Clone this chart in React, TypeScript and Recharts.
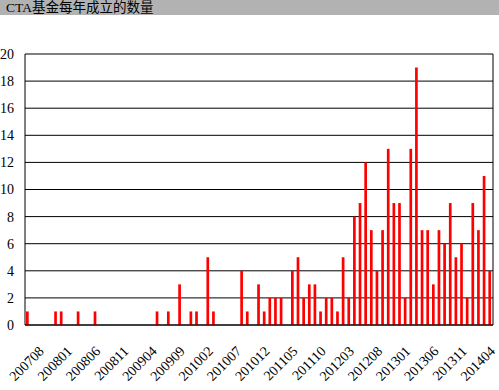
import React from 'react'
import { BarChart, Bar, XAxis, YAxis, CartesianGrid } from 'recharts'

// monthly categories, 200708 .. 201406
const months = [
  '200708', '200709', '200710', '200711', '200712',
  '200801', '200802', '200803', '200804', '200805', '200806', '200807', '200808', '200809', '200810', '200811', '200812',
  '200901', '200902', '200903', '200904', '200905', '200906', '200907', '200908', '200909', '200910', '200911', '200912',
  '201001', '201002', '201003', '201004', '201005', '201006', '201007', '201008', '201009', '201010', '201011', '201012',
  '201101', '201102', '201103', '201104', '201105', '201106', '201107', '201108', '201109', '201110', '201111', '201112',
  '201201', '201202', '201203', '201204', '201205', '201206', '201207', '201208', '201209', '201210', '201211', '201212',
  '201301', '201302', '201303', '201304', '201305', '201306', '201307', '201308', '201309', '201310', '201311', '201312',
  '201401', '201402', '201403', '201404', '201405', '201406'
]

// number of CTA funds set up in each month
const counts = [
  1, 0, 0, 0, 0,
  1, 1, 0, 0, 1, 0, 0, 1, 0, 0, 0, 0,
  0, 0, 0, 0, 0, 0, 1, 0, 1, 0, 3, 0,
  1, 1, 0, 5, 1, 0, 0, 0, 0, 4, 1, 0,
  3, 1, 2, 2, 2, 0, 4, 5, 2, 3, 3, 1,
  2, 2, 1, 5, 2, 8, 9, 12, 7, 4, 7, 13,
  9, 9, 2, 13, 19, 7, 7, 3, 7, 6, 9, 5,
  6, 2, 9, 7, 11, 4
]

const yTicks = [0, 2, 4, 6, 8, 10, 12, 14, 16, 18, 20]

const title = 'CTA基金每年成立的数量'

const data = months.map((m, i) => ({ month: m, count: counts[i] }))

const serif = '"Liberation Serif", "Times New Roman", serif'

const MonthTick = ({ x, y, payload }: any) => {
  const tx = x + 17
  const ty = y + 27
  return (
    <text
      x={tx}
      y={ty}
      transform={`rotate(-45 ${tx} ${ty})`}
      textAnchor="end"
      fontFamily={serif}
      fontSize={14}
      fill="#000"
    >
      {payload.value}
    </text>
  )
}

export default function App() {
  return (
    <div style={{ position: 'absolute', left: 0, top: 0, width: 499, height: 390, background: '#fff' }}>
      <div style={{
        position: 'absolute',
        left: 0,
        top: 0,
        width: 499,
        height: 15,
        background: '#b2b2b2',
        fontFamily: '"Liberation Serif", "Noto Sans CJK SC", serif',
        fontSize: 13.5,
        lineHeight: '15px',
        paddingLeft: 6,
        boxSizing: 'border-box',
        color: '#000'
      }}>
        {title}
      </div>
      <BarChart
        width={499}
        height={390}
        data={data}
        margin={{ top: 54, right: 5, bottom: 0, left: 0 }}
      >
        <CartesianGrid vertical={false} stroke="#000" strokeWidth={1} />
        <XAxis
          dataKey="month"
          interval={4}
          height={65}
          tickLine={false}
          tickSize={0}
          tickMargin={0}
          axisLine={{ stroke: '#000' }}
          tick={<MonthTick />}
        />
        <YAxis
          domain={[0, 20]}
          ticks={yTicks}
          width={25}
          tickLine={false}
          tickSize={0}
          tickMargin={11}
          axisLine={{ stroke: '#000' }}
          tick={{ fill: '#000', fontSize: 14, fontFamily: serif }}
        />
        <YAxis
          yAxisId="r"
          orientation="right"
          domain={[0, 20]}
          width={1}
          tick={false}
          tickLine={false}
          axisLine={{ stroke: '#000' }}
        />
        <Bar dataKey="count" fill="#ff0000" barSize={2.7} isAnimationActive={false} />
      </BarChart>
    </div>
  )
}
